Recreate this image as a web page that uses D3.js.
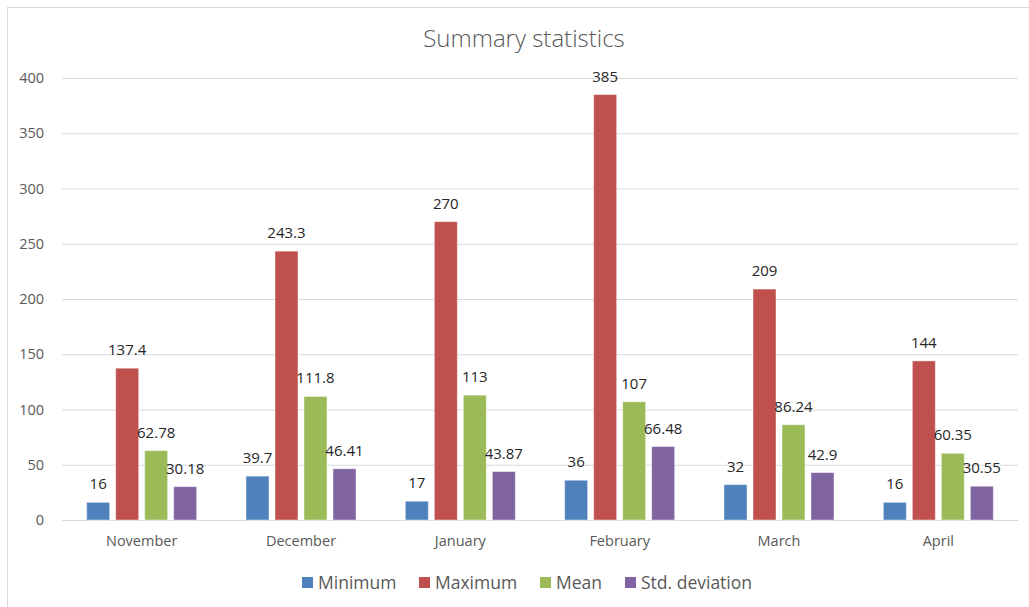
<!DOCTYPE html>
<html>
<head>
<meta charset="utf-8">
<script src="https://cdn.jsdelivr.net/npm/d3@7"></script>
<style>
  html, body { margin: 0; padding: 0; background: #fff; }
  svg { display: block; font-family: "Open Sans", "Liberation Sans", sans-serif; }
</style>
</head>
<body>
<svg id="chart" width="1029" height="607"></svg>
<script>
// Monthly summary statistics
const months = ["November", "December", "January", "February", "March", "April"];
const seriesNames = ["Minimum", "Maximum", "Mean", "Std. deviation"];
const minimum = [16, 39.7, 17, 36, 32, 16];
const maximum = [137.4, 243.3, 270, 385, 209, 144];
const mean = [62.78, 111.8, 113, 107, 86.24, 60.35];
const stdDeviation = [30.18, 46.41, 43.87, 66.48, 42.9, 30.55];
const yTicks = [0, 50, 100, 150, 200, 250, 300, 350, 400];
const colors = ["#4F81BD", "#C0504D", "#9BBB59", "#8064A2"];

const seriesValues = [minimum, maximum, mean, stdDeviation];

const svg = d3.select("#chart");
const W = 1029, H = 607;
const plot = { left: 62, right: 1018, top: 78, bottom: 520 };

// Chart area border
svg.append("rect")
  .attr("x", 7.5).attr("y", 7.5)
  .attr("width", W).attr("height", H)
  .attr("fill", "#fff").attr("stroke", "#d9d9d9").attr("stroke-width", 1);

// Title
svg.append("text")
  .attr("x", 524).attr("y", 47)
  .attr("text-anchor", "middle")
  .attr("font-size", 24).attr("font-weight", 300)
  .attr("fill", "#595959")
  .text("Summary statistics");

const y = d3.scaleLinear().domain([0, 400]).range([plot.bottom, plot.top]);
const x0 = d3.scaleBand().domain(months).range([plot.left, plot.right]).padding(0);
const groupPad = (x0.bandwidth() - 110) / 2;
const x1 = d3.scaleBand().domain(seriesNames)
  .range([groupPad, x0.bandwidth() - groupPad])
  .paddingInner(0.207).paddingOuter(0);

// Gridlines
const yAxis = d3.axisLeft(y).tickValues(yTicks).tickSize(-(plot.right - plot.left)).tickPadding(18);
const gy = svg.append("g").attr("transform", `translate(${plot.left},0)`).call(yAxis);
gy.select(".domain").remove();
gy.selectAll(".tick line").attr("stroke", "#d9d9d9").attr("stroke-width", 1);
gy.selectAll(".tick text")
  .attr("font-size", 14.5).attr("fill", "#595959")
  .attr("font-family", "\"Open Sans\", sans-serif");

// Category axis
const xAxis = d3.axisBottom(x0).tickSize(0).tickPadding(16);
const gx = svg.append("g").attr("transform", `translate(0,${plot.bottom})`).call(xAxis);
gx.select(".domain").attr("stroke", "#d9d9d9");
gx.selectAll(".tick text")
  .attr("font-size", 14.5).attr("fill", "#595959")
  .attr("font-family", "\"Open Sans\", sans-serif");

// Bars
const rows = months.map((m, i) => ({
  month: m,
  values: seriesNames.map((s, j) => ({ series: s, idx: j, value: seriesValues[j][i] }))
}));

const groups = svg.append("g").selectAll("g")
  .data(rows).join("g")
  .attr("transform", d => `translate(${x0(d.month)},0)`);

groups.selectAll("rect")
  .data(d => d.values).join("rect")
  .attr("x", d => x1(d.series))
  .attr("y", d => y(d.value))
  .attr("width", x1.bandwidth())
  .attr("height", d => y(0) - y(d.value))
  .attr("fill", d => colors[d.idx])
  .attr("stroke", "rgba(255,255,255,0.45)")
  .attr("stroke-width", 1);

groups.selectAll("text.val")
  .data(d => d.values).join("text")
  .attr("class", "val")
  .attr("x", d => x1(d.series) + x1.bandwidth() / 2)
  .attr("y", d => y(d.value) - 13)
  .attr("text-anchor", "middle")
  .attr("font-size", 15)
  .attr("fill", "#262626")
  .text(d => d.value);

// Legend
const legendX = [302, 419, 540, 625];
const legend = svg.append("g").selectAll("g")
  .data(seriesNames).join("g")
  .attr("transform", (d, i) => `translate(${legendX[i]},577)`);
legend.append("rect")
  .attr("width", 11).attr("height", 11)
  .attr("fill", (d, i) => colors[i]);
legend.append("text")
  .attr("x", 16).attr("y", 11.5)
  .attr("font-size", 17.5).attr("fill", "#595959")
  .text(d => d);
</script>
</body>
</html>
